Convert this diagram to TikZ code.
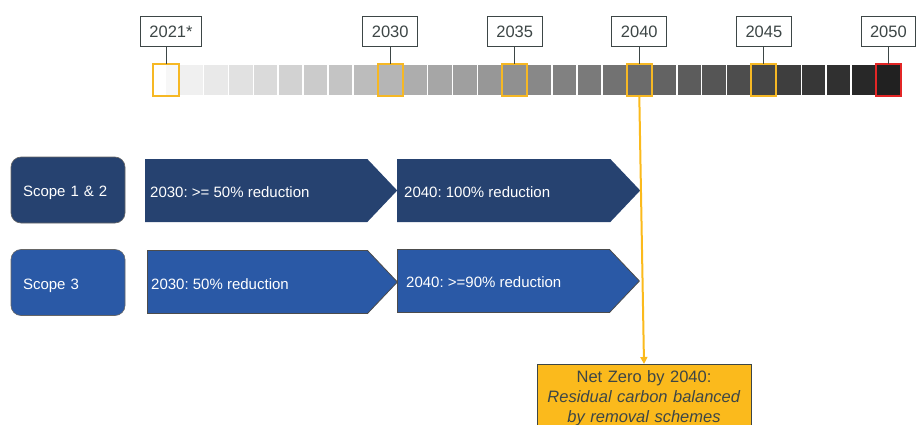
\documentclass[tikz,border=0pt]{standalone}
\usepackage{fontspec}
\setmainfont{Liberation Sans}
\usepackage{xcolor}
\usetikzlibrary{shapes.symbols,arrows.meta,positioning}

\definecolor{navy}{HTML}{264270}
\definecolor{scopeblue}{HTML}{2A59A6}
\definecolor{amber}{HTML}{FBBA1C}
\definecolor{framegold}{HTML}{F6B824}
\definecolor{slate}{HTML}{3D4646}
\definecolor{alertred}{HTML}{E32626}
\frenchspacing

\begin{document}
\begin{tikzpicture}[x=1pt, y=-1pt,
    cell/.style={rectangle, draw=white, line width=0.8pt, minimum width=24.4pt, minimum height=31pt, inner sep=0pt},
    yearbox/.style={rectangle, draw=slate, fill=white, line width=0.9pt, text=slate, font=\fontsize{16.5}{19}\selectfont, minimum height=30pt, inner xsep=9pt},
    tick/.style={draw=slate, line width=0.9pt},
    hilite/.style={draw=framegold, line width=2pt},
    scopebox/.style={rectangle, rounded corners=10pt, draw=black!60, line width=0.6pt, minimum width=114pt, minimum height=66pt, inner xsep=12pt, text width=90pt, text height=13pt, text depth=0pt, align=left, text=white, font=\fontsize{15}{18}\selectfont},
    chev/.style={signal, signal to=east, signal pointer angle=93, minimum height=63pt, inner sep=0pt, anchor=west},
    chevtext/.style={text=white, font=\fontsize{15}{18}\selectfont, text height=13pt, text depth=0pt, inner sep=0pt}
]
    \useasboundingbox (0,0) rectangle (917,425);
    \clip (0,0) rectangle (917,425);

    % timeline strip, one cell per year
    \foreach \i in {0,...,29} {
        \pgfmathsetmacro\shade{3+2.9*\i}
        \node[cell, fill=black!\shade] (sq\i) at (166+24.91*\i, 80) {};
    }
    \fill[white] (sq0.north west) rectangle (sq0.south);
    \foreach \i in {0,9,14,19,24}
        \draw[hilite] (sq\i.north west) rectangle (sq\i.south east);
    \draw[draw=alertred, line width=2pt] (sq29.north west) rectangle (sq29.south east);

    \node[yearbox, above=17pt of sq0, xshift=5pt] (lbl2021) {2021*};
    \node[yearbox, above=17pt of sq9] (lbl2030) {2030};
    \node[yearbox, above=17pt of sq14] (lbl2035) {2035};
    \node[yearbox, above=17pt of sq19] (lbl2040) {2040};
    \node[yearbox, above=17pt of sq24] (lbl2045) {2045};
    \node[yearbox, above=17pt of sq29] (lbl2050) {2050};

    \draw[tick] (sq0.north) -- (sq0.north |- lbl2021.south);
    \draw[tick] (lbl2030) -- (sq9);
    \draw[tick] (lbl2035) -- (sq14);
    \draw[tick] (lbl2040) -- (sq19);
    \draw[tick] (lbl2045) -- (sq24);
    \draw[tick] (lbl2050) -- (sq29);

    % scopes and targets
    \node[scopebox, fill=navy] (scope12) at (68,190) {Scope 1 \& 2};
    \node[scopebox, fill=scopeblue] (scope3) at (68,282.5) {Scope 3};

    \node[chev, fill=navy, minimum width=252pt] (t12a) at (145,190.5) {};
    \node[chev, fill=navy, minimum width=243pt] (t12b) at (397,190.5) {};
    \node[chev, fill=scopeblue, draw=black!70, line width=0.8pt, minimum width=250pt] (t3a) at (147,282) {};
    \node[chev, fill=scopeblue, draw=black!70, line width=0.8pt, minimum width=242pt] (t3b) at (397,281) {};

    \node[chevtext, right=5pt of t12a.west] {2030: >= 50\% reduction};
    \node[chevtext, right=7pt of t12b.west] {2040: 100\% reduction};
    \node[chevtext, right=4pt of t3a.west, yshift=-1pt] {2030: 50\% reduction};
    \node[chevtext, right=9pt of t3b.west] {2040: >=90\% reduction};

    % net zero goal
    \node[draw=slate, fill=amber, line width=1pt, text width=204pt, align=center, anchor=north, inner xsep=5pt, inner ysep=6pt, text=slate, font=\fontsize{16.5}{20}\selectfont] (netzero) at (644,364)
        {Net Zero by 2040:\\\textit{Residual carbon balanced}\\\textit{by removal schemes}};
    \draw[draw=amber, line width=2pt, -{Triangle[width=7pt,length=7pt]}] (sq19.south) -- (netzero.north);
\end{tikzpicture}
\end{document}
